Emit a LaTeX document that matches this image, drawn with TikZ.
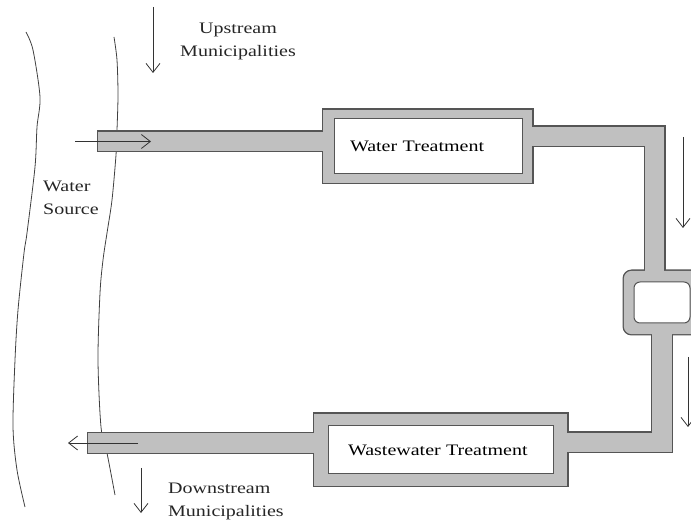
\documentclass[tikz,border=0pt]{standalone}
\usepackage{fontspec}
\setmainfont[FakeStretch=1.25]{Liberation Serif}
\usetikzlibrary{arrows.meta}
\definecolor{pipegray}{RGB}{192,192,192}
\definecolor{pipeedge}{RGB}{85,85,85}
\pgfdeclarelayer{walls}
\pgfdeclarelayer{bore}
\pgfsetlayers{walls,bore,main}

\begin{document}
\begin{tikzpicture}[x=1pt, y=1pt,
  plant/.style={draw=pipeedge, fill=white, line width=1pt, inner xsep=16pt, align=left, font=\fontsize{16}{23}\selectfont},
  note/.style={inner sep=0pt, text=black!85, font=\fontsize{16}{23}\selectfont},
  pipewall/.style={draw=pipeedge, line width=22pt},
  pipebore/.style={draw=pipegray, line width=19.4pt},
  flow/.style={-{Straight Barb[length=9pt, width=14pt]}, line width=0.8pt, draw=black!80},
  bank/.style={draw=black!75, line width=0.8pt}]
  \useasboundingbox (0,0) rectangle (691,525);

  % plants
  \node[plant, minimum width=188pt, minimum height=55pt, text width=156pt] (wt) at (428,378.5) {Water Treatment};
  \node[plant, minimum width=225pt, minimum height=48pt, text width=185pt] (wwt) at (440.5,75) {Wastewater Treatment};
  \node[plant, rounded corners=6pt, minimum width=56pt, minimum height=41pt] (tank) at (662,222.5) {};

  \coordinate (intake) at (97,383.5);
  \coordinate (outfall) at (87,82);
  \coordinate (elbowA) at (654.5,388.5);
  \coordinate (elbowB) at (662,82.5);

  % river banks
  \begin{pgfonlayer}{walls}
    \draw[bank] plot[smooth] coordinates {(26,493) (33,475) (40,428) (37,398) (35,358) (27,292) (24,272) (18,215) (15,165) (13,98) (17,55) (25,18)};
    \draw[bank] plot[smooth] coordinates {(114,488) (117,465) (118,430) (117,395) (116,370) (112,325) (107,292) (103,265) (100,232) (98,165) (101,98) (107,72) (115,30)};
    % frames and pipes, outer walls
    \fill[pipeedge] ([shift={(-12,-10)}]wt.south west) rectangle ([shift={(11,10)}]wt.north east);
    \fill[pipeedge] ([shift={(-15,-13)}]wwt.south west) rectangle ([shift={(15,13)}]wwt.north east);
    \fill[pipeedge, rounded corners=9pt] ([shift={(-11,-12)}]tank.south west) rectangle ([shift={(11,12)}]tank.north east);
    \draw[pipewall] (intake) -- (intake -| wt.west);
    \draw[pipewall] (wt.east |- elbowA) -- (elbowA) -- (elbowA |- tank.north);
    \draw[pipewall] (tank.south) -- (elbowB) -- (elbowB -| wwt.east);
    \draw[pipewall] (wwt.west |- outfall) -- (outfall);
  \end{pgfonlayer}

  \begin{pgfonlayer}{bore}
    \fill[pipegray] ([shift={(-10.7,-8.7)}]wt.south west) rectangle ([shift={(9.7,8.7)}]wt.north east);
    \fill[pipegray] ([shift={(-13.7,-11.7)}]wwt.south west) rectangle ([shift={(13.7,11.7)}]wwt.north east);
    \fill[pipegray, rounded corners=8pt] ([shift={(-9.7,-10.7)}]tank.south west) rectangle ([shift={(9.7,10.7)}]tank.north east);
    \draw[pipebore, shorten <=1.3pt] (intake) -- (intake -| wt.west);
    \draw[pipebore] (wt.east |- elbowA) -- (elbowA) -- (elbowA |- tank.north);
    \draw[pipebore] (tank.south) -- (elbowB) -- (elbowB -| wwt.east);
    \draw[pipebore, shorten >=1.3pt] (wwt.west |- outfall) -- (outfall);
  \end{pgfonlayer}

  % flow arrows
  \draw[flow] (75,383.5) -- (151,383.5);
  \draw[flow] (138,82) -- (68,82);
  \draw[flow] (153,518) -- (153,452);
  \draw[flow] (683,388) -- (683,297);
  \draw[flow] (688,168) -- (688,98);
  \draw[flow] (141,57) -- (141,12);

  % labels
  \node[note, align=center] (upstream) at (238,483.5) {Upstream\\Municipalities};
  \node[note, align=left, anchor=west] (source) at (43,327) {Water\\Source};
  \node[note, align=left, anchor=west] (downstream) at (168,23.5) {Downstream\\Municipalities};
\end{tikzpicture}
\end{document}
